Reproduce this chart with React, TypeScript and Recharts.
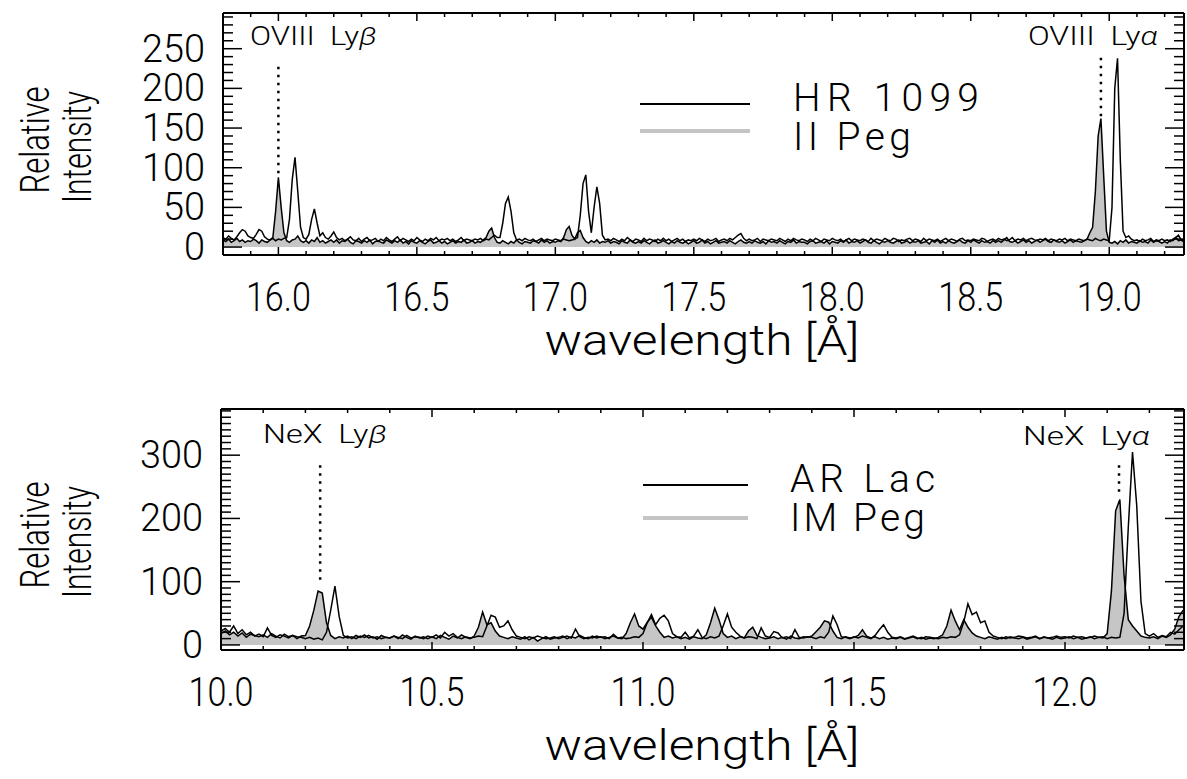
import { ComposedChart, Area, Line, XAxis, YAxis, ReferenceLine } from "recharts";

// spectra are binned on a 0.01 Å grid, one row below = 0.1 Å
const STEP = 0.01;
const OVIII_START = 15.8;
const NEX_START = 10.0;

// top panel, II Peg (filled)
const II_PEG = [
  9, 7, 10, 6, 8, 11, 7, 9, 6, 8,
  7, 10, 8, 5, 9, 7, 6, 9, 12, 45,
  88, 50, 18, 8, 6, 9, 10, 14, 8, 6,
  8, 5, 9, 7, 12, 6, 8, 5, 7, 9,
  6, 9, 5, 8, 7, 10, 6, 4, 8, 7,
  5, 8, 6, 9, 4, 7, 8, 6, 5, 9,
  7, 5, 8, 6, 9, 5, 7, 4, 8, 6,
  5, 8, 6, 4, 7, 9, 5, 6, 8, 5,
  7, 4, 6, 8, 5, 7, 6, 9, 5, 6,
  8, 5, 7, 6, 9, 12, 20, 24, 12, 6,
  5, 8, 6, 4, 7, 5, 9, 6, 4, 7,
  6, 5, 8, 7, 5, 9, 6, 8, 5, 7,
  6, 8, 7, 12, 22, 26, 15, 10, 18, 21,
  12, 7, 5, 8, 6, 9, 5, 7, 6, 8,
  5, 7, 6, 4, 8, 6, 5, 9, 6, 5,
  7, 5, 8, 6, 4, 7, 9, 5, 6, 8,
  6, 4, 7, 5, 8, 6, 5, 7, 4, 6,
  8, 5, 6, 9, 5, 7, 4, 6, 8, 5,
  6, 7, 5, 8, 6, 4, 7, 9, 6, 5,
  7, 5, 8, 6, 5, 7, 4, 8, 6, 7,
  5, 8, 6, 4, 7, 6, 9, 5, 7, 6,
  6, 4, 7, 8, 5, 6, 7, 5, 8, 4,
  7, 6, 5, 8, 6, 9, 5, 7, 6, 8,
  5, 7, 9, 6, 5, 8, 6, 4, 7, 6,
  8, 6, 5, 7, 9, 5, 6, 8, 5, 7,
  6, 8, 5, 6, 7, 4, 8, 6, 9, 5,
  7, 5, 8, 6, 5, 7, 9, 6, 5, 8,
  6, 9, 7, 5, 8, 6, 7, 5, 8, 6,
  8, 6, 9, 12, 7, 6, 8, 5, 7, 9,
  6, 8, 5, 7, 9, 6, 8, 10, 7, 6,
  9, 7, 6, 8, 5, 7, 9, 6, 8, 7,
  6, 8, 10, 18, 25, 70, 140, 162, 90, 20,
  6, 5, 7, 4, 8, 6, 9, 5, 7, 6,
  5, 8, 6, 7, 5, 9, 6, 8, 7, 5,
  7, 5, 9, 8, 12, 15, 9, 6,
];

// top panel, HR 1099 (line)
const HR_1099 = [
  12, 10, 14, 11, 9, 13, 18, 22, 20, 14,
  12, 11, 16, 22, 20, 13, 10, 9, 11, 8,
  10, 9, 11, 12, 35, 85, 113, 70, 25, 12,
  10, 16, 35, 48, 30, 14, 18, 12, 10, 14,
  19, 12, 9, 11, 8, 10, 13, 9, 8, 11,
  7, 10, 12, 8, 9, 11, 7, 10, 8, 12,
  9, 7, 10, 13, 8, 11, 9, 7, 10, 8,
  12, 9, 7, 10, 8, 11, 9, 12, 8, 10,
  9, 11, 8, 10, 7, 9, 12, 8, 10, 9,
  8, 10, 9, 11, 8, 10, 9, 12, 15, 12,
  12, 30, 55, 63, 45, 18, 9, 10, 8, 11,
  9, 8, 10, 7, 9, 11, 8, 10, 9, 8,
  10, 9, 8, 10, 9, 8, 9, 10, 12, 40,
  80, 91, 45, 18, 50, 76, 55, 15, 9, 10,
  8, 11, 9, 7, 10, 8, 12, 9, 7, 10,
  9, 7, 11, 8, 10, 9, 7, 10, 8, 11,
  8, 10, 7, 9, 11, 8, 10, 7, 9, 8,
  10, 8, 11, 9, 7, 10, 8, 9, 11, 7,
  9, 10, 8, 11, 9, 12, 15, 17, 11, 8,
  10, 8, 9, 11, 7, 10, 9, 8, 10, 9,
  8, 11, 9, 7, 10, 8, 11, 9, 8, 10,
  9, 7, 10, 8, 11, 9, 7, 10, 9, 8,
  11, 9, 8, 10, 7, 9, 11, 8, 10, 9,
  8, 10, 9, 7, 11, 8, 10, 9, 8, 11,
  9, 8, 11, 10, 7, 9, 8, 10, 11, 8,
  10, 9, 7, 11, 8, 10, 9, 8, 10, 7,
  9, 11, 8, 10, 9, 7, 10, 11, 8, 9,
  8, 10, 9, 8, 11, 10, 7, 9, 10, 8,
  11, 9, 10, 8, 9, 12, 8, 10, 9, 11,
  8, 10, 11, 9, 8, 10, 9, 11, 8, 10,
  9, 8, 10, 9, 11, 8, 10, 9, 8, 10,
  9, 8, 10, 9, 8, 11, 9, 8, 10, 9,
  8, 50, 200, 238, 110, 20, 12, 14, 10, 8,
  9, 7, 10, 8, 9, 11, 7, 9, 8, 10,
  8, 9, 7, 10, 12, 8, 9, 10,
];

// bottom panel, IM Peg (filled)
const IM_PEG = [
  18, 22, 16, 20, 14, 19, 12, 17, 15, 13,
  16, 12, 18, 14, 11, 17, 13, 15, 10, 14,
  15, 30, 55, 85, 82, 35, 15, 10, 13, 11,
  14, 10, 15, 12, 16, 11, 13, 9, 15, 12,
  11, 14, 10, 16, 12, 9, 14, 11, 13, 10,
  13, 10, 15, 12, 9, 14, 11, 16, 12, 10,
  14, 28, 52, 32, 35, 22, 14, 12, 10, 13,
  11, 9, 13, 8, 12, 6, 10, 13, 9, 11,
  12, 14, 10, 13, 11, 15, 12, 10, 14, 11,
  13, 10, 12, 14, 11, 10, 18, 35, 49, 30,
  25, 36, 44, 30, 20, 12, 14, 11, 13, 10,
  12, 9, 13, 11, 10, 16, 35, 58, 40, 18,
  12, 14, 10, 13, 11, 22, 28, 15, 12, 10,
  11, 13, 10, 12, 9, 14, 11, 10, 13, 12,
  14, 21, 28, 38, 36, 22, 12, 10, 13, 11,
  12, 15, 24, 14, 11, 13, 10, 12, 9, 11,
  10, 12, 9, 11, 13, 10, 12, 9, 11, 10,
  12, 16, 30, 55, 38, 24, 40, 28, 19, 14,
  12, 10, 13, 11, 9, 12, 10, 13, 11, 10,
  12, 9, 11, 13, 10, 12, 11, 9, 12, 10,
  11, 13, 10, 12, 9, 11, 13, 10, 12, 11,
  18, 85, 212, 230, 110, 40, 30, 22, 14, 12,
  11, 13, 10, 14, 12, 16, 25, 45, 55,
];

// bottom panel, AR Lac (line)
const AR_LAC = [
  22, 26, 20, 30, 18, 24, 16, 20, 14, 17,
  13, 27, 15, 12, 16, 14, 11, 15, 13, 12,
  10, 12, 9, 11, 8, 20, 55, 93, 45, 15,
  11, 13, 10, 14, 12, 15, 11, 13, 10, 12,
  11, 14, 12, 10, 15, 11, 13, 12, 10, 14,
  12, 16, 11, 20, 14, 18, 12, 10, 13, 11,
  12, 14, 13, 30, 47, 44, 28, 30, 38, 24,
  14, 12, 10, 13, 11, 14, 12, 10, 11, 13,
  10, 12, 14, 11, 25, 13, 10, 12, 11, 14,
  12, 13, 10, 17, 11, 12, 10, 11, 13, 12,
  18, 35, 48, 32, 42, 47, 38, 18, 13, 12,
  20, 11, 14, 24, 12, 10, 13, 11, 14, 30,
  49, 28, 20, 14, 11, 13, 12, 10, 27, 14,
  12, 21, 19, 11, 13, 10, 24, 12, 11, 13,
  12, 10, 13, 11, 20, 46, 32, 13, 12, 10,
  13, 11, 14, 12, 10, 15, 24, 32, 20, 12,
  11, 13, 10, 12, 14, 11, 10, 13, 12, 11,
  10, 12, 11, 13, 12, 16, 36, 65, 48, 52,
  35, 38, 20, 14, 12, 10, 13, 11, 12, 14,
  13, 11, 12, 14, 10, 13, 11, 12, 14, 12,
  13, 11, 14, 12, 13, 11, 12, 14, 12, 13,
  10, 12, 11, 12, 50, 186, 305, 220, 69, 18,
  14, 18, 12, 15, 13, 20, 17, 24, 30,
];

const TOP_X_MAJOR = [16.0, 16.5, 17.0, 17.5, 18.0, 18.5, 19.0];
const TOP_Y_MAJOR = [0, 50, 100, 150, 200, 250];
const BOT_X_MAJOR = [10.0, 10.5, 11.0, 11.5, 12.0];
const BOT_Y_MAJOR = [0, 100, 200, 300];

const steps = (from: number, to: number, step: number) => {
  const out: number[] = [];
  for (let v = from; v <= to + step / 2; v += step) out.push(+v.toFixed(2));
  return out;
};

const TOP_X_TICKS = steps(15.8, 19.2, 0.1);
const TOP_Y_TICKS = steps(0, 290, 10);
const BOT_X_TICKS = steps(10.0, 12.2, 0.1);
const BOT_Y_TICKS = steps(0, 370, 10);

const topData = II_PEG.map((v, i) => ({
  w: +(OVIII_START + i * STEP).toFixed(2),
  filled: v,
  line: HR_1099[i],
}));
const botData = IM_PEG.map((v, i) => ({
  w: +(NEX_START + i * STEP).toFixed(2),
  filled: v,
  line: AR_LAC[i],
}));

const FONT = "Roboto, 'Liberation Sans', Arial, sans-serif";

const FrameTick = (props: any) => {
  const { x = 0, y = 0, payload, side, majors, digits } = props;
  const v = payload ? payload.value : 0;
  const major = majors.some((m: number) => Math.abs(m - v) < 1e-6);
  const horiz = side === "bottom" || side === "top";
  const len = horiz ? (major ? 8 : 4) : major ? 19 : 10;
  let x2 = x;
  let y2 = y;
  if (side === "bottom") y2 = y - len;
  if (side === "top") y2 = y + len;
  if (side === "left") x2 = x + len;
  if (side === "right") x2 = x - len;
  const label = v.toFixed(digits);
  return (
    <g>
      <line x1={x} y1={y} x2={x2} y2={y2} stroke="#000" strokeWidth={1.5} />
      {major && side === "bottom" && (
        <text x={x} y={y + 56} textAnchor="middle" fontSize={40} fontFamily={FONT} fontWeight={300}
          textLength={65} lengthAdjust="spacingAndGlyphs" fill="#000">{label}</text>
      )}
      {major && side === "left" && (
        <text x={x - 18} y={y + 13} textAnchor="end" fontSize={38} fontFamily={FONT} fontWeight={300}
          textLength={label.length * 21} lengthAdjust="spacingAndGlyphs" fill="#000">{label}</text>
      )}
    </g>
  );
};

const frame = { stroke: "#000", strokeWidth: 2 };

function Panel({ data, xDomain, yDomain, xTicks, yTicks, xMajor, yMajor, margin, height, marks }: any) {
  const common = { type: "number" as const, allowDataOverflow: true, interval: 0 as const, tickSize: 0, tickMargin: 0, axisLine: frame };
  return (
    <ComposedChart width={1187} height={height} data={data} margin={margin}>
      <XAxis {...common} xAxisId="b" dataKey="w" domain={xDomain} ticks={xTicks} height={60}
        tick={(p: any) => <FrameTick {...p} side="bottom" majors={xMajor} digits={1} />} />
      <XAxis {...common} xAxisId="t" dataKey="w" orientation="top" domain={xDomain} ticks={xTicks} height={1}
        tick={(p: any) => <FrameTick {...p} side="top" majors={xMajor} digits={1} />} />
      <YAxis {...common} yAxisId="l" domain={yDomain} ticks={yTicks} width={60}
        tick={(p: any) => <FrameTick {...p} side="left" majors={yMajor} digits={0} />} />
      <YAxis {...common} yAxisId="r" orientation="right" domain={yDomain} ticks={yTicks} width={1}
        tick={(p: any) => <FrameTick {...p} side="right" majors={yMajor} digits={0} />} />
      <Area xAxisId="b" yAxisId="l" dataKey="filled" type="linear" stroke="#000" strokeWidth={1.5}
        fill="#c6c6c6" fillOpacity={1} baseValue={0} dot={false} activeDot={false} isAnimationActive={false} />
      <Line xAxisId="t" yAxisId="r" dataKey="line" type="linear" stroke="#000" strokeWidth={1.5}
        dot={false} activeDot={false} isAnimationActive={false} />
      {marks.map((m: any, i: number) => (
        <ReferenceLine key={i} xAxisId="b" yAxisId="l" segment={[{ x: m.x, y: m.y1 }, { x: m.x, y: m.y2 }]}
          stroke="#000" strokeWidth={2.5} strokeDasharray="2.5 5.5" />
      ))}
    </ComposedChart>
  );
}

const txt = { fontFamily: FONT, fontWeight: 300, fill: "#000" } as const;
const note = {
  fontFamily: FONT, fontWeight: 300, fill: "#000", fontSize: 26,
  lengthAdjust: "spacingAndGlyphs", style: { whiteSpace: "pre" },
} as const;
const squeeze = { lengthAdjust: "spacingAndGlyphs" } as const;

export default function App() {
  return (
    <div style={{ position: "absolute", left: 0, top: 0, width: 1187, height: 779, background: "#fff" }}>
      <div style={{ position: "absolute", left: 0, top: 0 }}>
        <Panel data={topData} xDomain={[15.8, 19.27]} yDomain={[-10, 295]} xTicks={TOP_X_TICKS} yTicks={TOP_Y_TICKS}
          xMajor={TOP_X_MAJOR} yMajor={TOP_Y_MAJOR} height={390}
          margin={{ top: 12, right: 2, bottom: 75, left: 163 }}
          marks={[{ x: 16.0, y1: 93, y2: 232 }, { x: 18.97, y1: 165, y2: 240 }]} />
      </div>
      <div style={{ position: "absolute", left: 0, top: 390 }}>
        <Panel data={botData} xDomain={[10.0, 12.282]} yDomain={[-8, 373]} xTicks={BOT_X_TICKS} yTicks={BOT_Y_TICKS}
          xMajor={BOT_X_MAJOR} yMajor={BOT_Y_MAJOR} height={389}
          margin={{ top: 18, right: 2, bottom: 69, left: 161 }}
          marks={[{ x: 10.235, y1: 103, y2: 292 }, { x: 12.128, y1: 242, y2: 290 }]} />
      </div>
      <svg width={1187} height={779} style={{ position: "absolute", left: 0, top: 0, pointerEvents: "none" }}>
        {/* top panel */}
        <text {...note} x={250} y={45} textLength={127}>OVIII  Ly<tspan fontStyle="italic">β</tspan></text>
        <text {...note} x={1028} y={45} textLength={130}>OVIII  Ly<tspan fontStyle="italic">α</tspan></text>
        <line x1={640} y1={104} x2={750} y2={104} stroke="#000" strokeWidth={2} />
        <line x1={640} y1={131} x2={750} y2={131} stroke="#c4c4c4" strokeWidth={4} />
        <text {...txt} x={793} y={111} fontSize={39} textLength={186}>HR 1099</text>
        <text {...txt} x={793} y={150} fontSize={39} textLength={118}>II Peg</text>
        <text {...txt} {...squeeze} x={702} y={355} fontSize={42} textAnchor="middle" textLength={315}>wavelength [Å]</text>
        <text {...txt} {...squeeze} fontSize={40} textAnchor="middle" textLength={107} transform="translate(49,140) rotate(-90)">Relative</text>
        <text {...txt} {...squeeze} fontSize={40} textAnchor="middle" textLength={112} transform="translate(91,147) rotate(-90)">Intensity</text>
        {/* bottom panel */}
        <text {...note} x={263} y={443} textLength={124}>NeX  Ly<tspan fontStyle="italic">β</tspan></text>
        <text {...note} x={1023} y={445} textLength={127}>NeX  Ly<tspan fontStyle="italic">α</tspan></text>
        <line x1={643} y1={485} x2={748} y2={485} stroke="#000" strokeWidth={2} />
        <line x1={643} y1={518} x2={748} y2={518} stroke="#c4c4c4" strokeWidth={4} />
        <text {...txt} x={790} y={492} fontSize={39} textLength={145}>AR Lac</text>
        <text {...txt} x={790} y={531} fontSize={39} textLength={135}>IM Peg</text>
        <text {...txt} {...squeeze} x={702} y={760} fontSize={42} textAnchor="middle" textLength={315}>wavelength [Å]</text>
        <text {...txt} {...squeeze} fontSize={40} textAnchor="middle" textLength={107} transform="translate(49,535) rotate(-90)">Relative</text>
        <text {...txt} {...squeeze} fontSize={40} textAnchor="middle" textLength={112} transform="translate(91,542) rotate(-90)">Intensity</text>
      </svg>
    </div>
  );
}
